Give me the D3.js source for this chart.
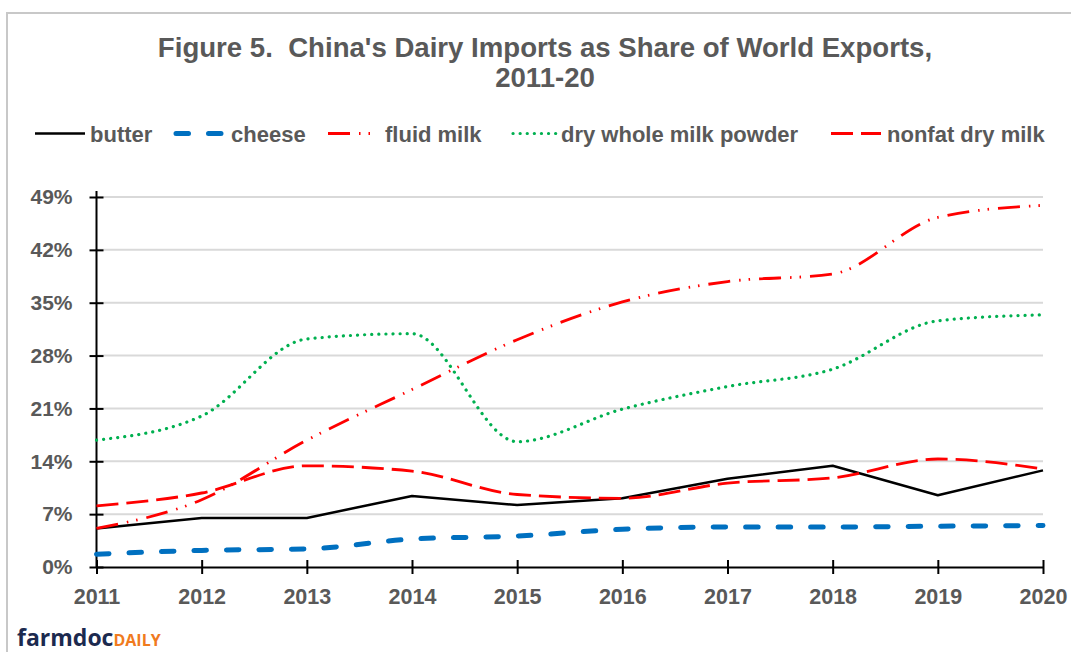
<!DOCTYPE html>
<html>
<head>
<meta charset="utf-8">
<script src="https://cdn.jsdelivr.net/npm/d3@7/dist/d3.min.js"></script>
<style>
  html, body { margin: 0; padding: 0; background: #fff; }
  svg { display: block; font-family: "Liberation Sans", Arial, sans-serif; }
</style>
</head>
<body>
<svg id="chart" width="1071" height="652"></svg>
<script>
// China's dairy imports as a share of world exports, 2011-20 (percent)
const years = [2011, 2012, 2013, 2014, 2015, 2016, 2017, 2018, 2019, 2020];
const butter = [5.1, 6.5, 6.5, 9.4, 8.2, 9.1, 11.7, 13.4, 9.5, 12.8];
const cheese = [1.7, 2.2, 2.4, 3.7, 4.1, 5.0, 5.3, 5.3, 5.4, 5.5];
const fluidMilk = [5.1, 8.9, 16.8, 23.5, 30.1, 35.1, 37.8, 38.8, 46.3, 47.9];
const dryWholeMilkPowder = [16.8, 20.0, 30.2, 30.9, 16.6, 20.9, 23.9, 26.2, 32.6, 33.4];
const nonfatDryMilk = [8.1, 9.8, 13.4, 12.7, 9.6, 9.1, 11.1, 11.8, 14.3, 13.0];
const yTicks = [0, 7, 14, 21, 28, 35, 42, 49];
const seriesNames = ["butter", "cheese", "fluid milk", "dry whole milk powder", "nonfat dry milk"];

const series = [
  { name: seriesNames[0], values: butter, color: "#000000", width: 2.5, dash: null, cap: "butt", smooth: false },
  { name: seriesNames[1], values: cheese, color: "#0070C0", width: 5, dash: "12.5,20", cap: "round", smooth: true },
  { name: seriesNames[2], values: fluidMilk, color: "#FF0000", width: 2.8, dash: "22,9,1.5,8,1.5,9", cap: "butt", smooth: true },
  { name: seriesNames[3], values: dryWholeMilkPowder, color: "#00B050", width: 3.2, dash: "0.1,7", cap: "round", smooth: true },
  { name: seriesNames[4], values: nonfatDryMilk, color: "#FF0000", width: 2.8, dash: "22,8", cap: "butt", smooth: true }
];

const svg = d3.select("#chart");
const labelColor = "#595959";

// outer frame
svg.append("rect")
  .attr("x", 7).attr("y", 13).attr("width", 1200).attr("height", 800)
  .attr("fill", "none").attr("stroke", "#c8c8c8").attr("stroke-width", 2);

// title
const title = svg.append("text")
  .attr("text-anchor", "middle")
  .attr("fill", labelColor)
  .attr("font-weight", "bold")
  .attr("font-size", 27.6);
title.append("tspan").attr("x", 545).attr("y", 57).attr("xml:space", "preserve")
  .text("Figure 5.  China's Dairy Imports as Share of World Exports,");
title.append("tspan").attr("x", 545).attr("y", 87).text("2011-20");

// scales
const x = d3.scalePoint().domain(years).range([96.5, 1043]);
const y = d3.scaleLinear().domain([0, 49]).range([567, 197]);

// gridlines
svg.append("g")
  .selectAll("line")
  .data(yTicks.filter(d => d > 0))
  .join("line")
  .attr("x1", x(years[0])).attr("x2", x(years[years.length - 1]))
  .attr("y1", d => y(d)).attr("y2", d => y(d))
  .attr("stroke", "#d9d9d9").attr("stroke-width", 2);

// y axis
const yAxis = svg.append("g")
  .attr("transform", `translate(${x(years[0])},0)`)
  .call(d3.axisLeft(y).tickValues(yTicks).tickFormat(d => d + "%").tickSizeOuter(0).tickSizeInner(6).tickPadding(18));
yAxis.select(".domain").remove();
yAxis.append("line")
  .attr("x1", 0).attr("x2", 0).attr("y1", y(0)).attr("y2", y(49) - 6)
  .attr("stroke", "#000").attr("stroke-width", 2);
yAxis.selectAll(".tick line").attr("x1", 7).attr("x2", -7).attr("stroke", "#000").attr("stroke-width", 2);
yAxis.selectAll(".tick text")
  .attr("fill", labelColor).attr("font-size", 21).attr("font-weight", "bold")
  .attr("font-family", "Liberation Sans, Arial, sans-serif");

// x axis
const xAxis = svg.append("g")
  .attr("transform", `translate(0,${y(0)})`)
  .call(d3.axisBottom(x).tickFormat(d3.format("d")).tickSizeOuter(0).tickSizeInner(7).tickPadding(15));
xAxis.select(".domain").attr("stroke", "#000").attr("stroke-width", 2);
xAxis.selectAll(".tick line").attr("y1", -7).attr("y2", 7).attr("stroke", "#000").attr("stroke-width", 2);
xAxis.selectAll(".tick text")
  .attr("fill", labelColor).attr("font-size", 21.5).attr("font-weight", "bold")
  .attr("font-family", "Liberation Sans, Arial, sans-serif");

// series lines
const lineSmooth = d3.line().x((d, i) => x(years[i])).y(d => y(d)).curve(d3.curveMonotoneX);
const lineStraight = d3.line().x((d, i) => x(years[i])).y(d => y(d));

svg.append("g")
  .selectAll("path")
  .data(series)
  .join("path")
  .attr("d", s => (s.smooth ? lineSmooth : lineStraight)(s.values))
  .attr("fill", "none")
  .attr("stroke", s => s.color)
  .attr("stroke-width", s => s.width)
  .attr("stroke-dasharray", s => s.dash)
  .attr("stroke-linecap", s => s.cap)
  .attr("stroke-linejoin", "round");

// legend
const legendItems = [
  { x0: 35, x1: 85, tx: 90 },
  { x0: 176, x1: 224, tx: 231 },
  { x0: 328, x1: 374, tx: 385 },
  { x0: 513, x1: 556, tx: 561 },
  { x0: 831, x1: 881, tx: 887 }
];
const legend = svg.append("g");
series.forEach((s, i) => {
  const p = legendItems[i];
  legend.append("line")
    .attr("x1", p.x0).attr("x2", p.x1).attr("y1", 133.5).attr("y2", 133.5)
    .attr("stroke", s.color).attr("stroke-width", s.width)
    .attr("stroke-dasharray", s.dash).attr("stroke-linecap", s.cap);
  legend.append("text")
    .attr("x", p.tx).attr("y", 141.5)
    .attr("fill", labelColor).attr("font-size", 22).attr("font-weight", "bold")
    .text(s.name);
});

// farmdoc daily mark
const logo = svg.append("text").attr("x", 17).attr("y", 646)
  .attr("font-family", "'Open Sans', 'DejaVu Sans', sans-serif").attr("font-weight", "bold");
logo.append("tspan").attr("fill", "#1c2a4f").attr("font-size", 23).text("farmdoc");
logo.append("tspan").attr("fill", "#f07b1e").attr("font-size", 16).text("DAILY");
</script>
</body>
</html>
